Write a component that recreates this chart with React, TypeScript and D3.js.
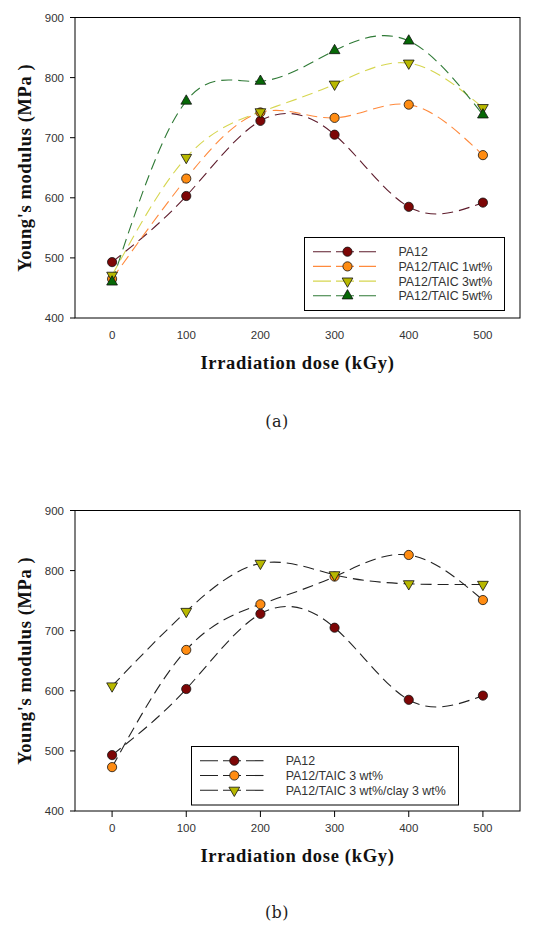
import React from "react";
import * as d3 from "d3";

// ---- data ----
const doses = [0, 100, 200, 300, 400, 500];
const xTicks = [0, 100, 200, 300, 400, 500];
const yTicks = [400, 500, 600, 700, 800, 900];

// panel (a)
const aPA12 = [493, 603, 728, 705, 585, 592];
const aTAIC1 = [465, 632, 742, 733, 755, 671];
const aTAIC3 = [471, 667, 743, 789, 824, 750];
const aTAIC5 = [460, 761, 794, 845, 861, 738];
const aLabels = ["PA12", "PA12/TAIC 1wt%", "PA12/TAIC 3wt%", "PA12/TAIC 5wt%"];

// panel (b)
const bPA12 = [493, 603, 728, 705, 585, 592];
const bTAIC3 = [473, 668, 744, 790, 826, 751];
const bClay = [608, 732, 812, 793, 778, 777];
const bLabels = ["PA12", "PA12/TAIC 3 wt%", "PA12/TAIC 3 wt%/clay 3 wt%"];

const xTitle = "Irradiation dose (kGy)";
const yTitle = "Young's modulus (MPa )";

type Series = { values: number[]; label: string; marker: string; fill: string; line: string };

const MAROON = "#7d0606";
const ORANGE = "#ff8c12";
const OLIVE = "#b8b800";
const GREEN = "#066806";

const seriesA: Series[] = [
  { values: aPA12, label: aLabels[0], marker: "circle", fill: MAROON, line: "#5e1c2c" },
  { values: aTAIC1, label: aLabels[1], marker: "circle", fill: ORANGE, line: "#ff8a3d" },
  { values: aTAIC3, label: aLabels[2], marker: "down", fill: OLIVE, line: "#d6d650" },
  { values: aTAIC5, label: aLabels[3], marker: "up", fill: GREEN, line: "#2f7a36" },
];
const seriesB: Series[] = [
  { values: bPA12, label: bLabels[0], marker: "circle", fill: MAROON, line: "#222" },
  { values: bTAIC3, label: bLabels[1], marker: "circle", fill: ORANGE, line: "#222" },
  { values: bClay, label: bLabels[2], marker: "down", fill: OLIVE, line: "#222" },
];

const SANS = "'Liberation Sans', Arial, sans-serif";
const SERIF = "'Liberation Serif', 'Times New Roman', serif";

function Marker({ kind, x, y, fill }: { kind: string; x: number; y: number; fill: string }) {
  if (kind === "circle") {
    return <circle cx={x} cy={y} r={4.6} fill={fill} stroke="#111" strokeWidth={0.8} />;
  }
  const path = d3.symbol().type(d3.symbolTriangle).size(50)() as string;
  const rot = kind === "down" ? 180 : 0;
  return (
    <path d={path} transform={`translate(${x},${y}) rotate(${rot})`} fill={fill} stroke="#111" strokeWidth={0.8} />
  );
}

type PanelProps = {
  top: number;
  bottom: number;
  series: Series[];
  xTickMarks: boolean;
  legend: { x0: number; x1: number; y0: number; y1: number; lineX0: number; lineX1: number; markerX: number; textX: number; rowY0: number; rowStep: number };
  caption: string;
  captionY: number;
};

function Panel({ top, bottom, series, xTickMarks, legend, caption, captionY }: PanelProps) {
  const left = 75;
  const right = 520;
  const x = d3.scaleLinear().domain([-50, 550]).range([left, right]);
  const y = d3.scaleLinear().domain([400, 900]).range([bottom, top]);
  const line = d3
    .line<number>()
    .x((_, i) => x(doses[i]))
    .y((d) => y(d))
    .curve(d3.curveNatural);

  return (
    <g>
      {/* curves */}
      {series.map((s, i) => (
        <path key={"l" + i} d={line(s.values) as string} fill="none" stroke={s.line} strokeWidth={1.1} strokeDasharray="11 6" />
      ))}
      {/* markers */}
      {series.map((s, i) => (
        <g key={"m" + i}>
          {s.values.map((v, j) => (
            <Marker key={j} kind={s.marker} x={x(doses[j])} y={y(v)} fill={s.fill} />
          ))}
        </g>
      ))}
      {/* frame */}
      <rect x={left} y={top} width={right - left} height={bottom - top} fill="none" stroke="#000" strokeWidth={1} />
      {/* y ticks */}
      {yTicks.map((t) => (
        <g key={"y" + t}>
          <line x1={left - 5} x2={left} y1={y(t)} y2={y(t)} stroke="#000" strokeWidth={1} />
          <text x={left - 11} y={y(t)} dy="0.35em" textAnchor="end" fontFamily={SANS} fontSize={11.5} fill="#333">
            {t}
          </text>
        </g>
      ))}
      {/* x ticks */}
      {xTicks.map((t) => (
        <g key={"x" + t}>
          {xTickMarks && <line x1={x(t)} x2={x(t)} y1={bottom} y2={bottom + 6} stroke="#000" strokeWidth={1} />}
          <text x={x(t)} y={bottom + 21} textAnchor="middle" fontFamily={SANS} fontSize={11.5} fill="#333">
            {t}
          </text>
        </g>
      ))}
      {/* axis titles */}
      <text x={(left + right) / 2} y={bottom + 51} textAnchor="middle" fontFamily={SERIF} fontWeight="bold" fontSize={18.5} letterSpacing={0.7} fill="#111">
        {xTitle}
      </text>
      <text
        transform={`translate(31,${(top + bottom) / 2}) rotate(-90)`}
        textAnchor="middle"
        fontFamily={SERIF}
        fontWeight="bold"
        fontSize={18.5}
        letterSpacing={0.6}
        fill="#111"
      >
        {yTitle}
      </text>
      {/* legend */}
      <rect x={legend.x0} y={legend.y0} width={legend.x1 - legend.x0} height={legend.y1 - legend.y0} fill="#fff" stroke="#000" strokeWidth={1} />
      {series.map((s, i) => {
        const ry = legend.rowY0 + i * legend.rowStep;
        return (
          <g key={"lg" + i}>
            <line x1={legend.lineX0} x2={legend.lineX1} y1={ry} y2={ry} stroke={s.line} strokeWidth={1.1} strokeDasharray="18 5" />
            <Marker kind={s.marker} x={legend.markerX} y={ry} fill={s.fill} />
            <text x={legend.textX} y={ry} dy="0.36em" fontFamily={SANS} fontSize={12.4} fill="#333">
              {s.label}
            </text>
          </g>
        );
      })}
      {/* caption */}
      <text x={277} y={captionY} dy="0.35em" textAnchor="middle" fontFamily="'DejaVu Serif', serif" fontSize={16} fill="#222" letterSpacing={0.5}>
        {caption}
      </text>
    </g>
  );
}

export default function App() {
  return (
    <svg width={548} height={940} style={{ position: "absolute", left: 0, top: 0, background: "#fff" }}>
      <rect x={0} y={0} width={548} height={940} fill="#fff" />
      <Panel
        top={17.5}
        bottom={318}
        series={seriesA}
        xTickMarks={false}
        legend={{ x0: 304.5, x1: 504.5, y0: 237.5, y1: 310.5, lineX0: 313, lineX1: 376, markerX: 347.5, textX: 398.5, rowY0: 251.7, rowStep: 14.7 }}
        caption="(a)"
        captionY={421.5}
      />
      <Panel
        top={510.5}
        bottom={811}
        series={seriesB}
        xTickMarks={true}
        legend={{ x0: 191.5, x1: 458.5, y0: 746.5, y1: 805, lineX0: 200, lineX1: 263.5, markerX: 234.3, textX: 285.7, rowY0: 760.7, rowStep: 14.8 }}
        caption="(b)"
        captionY={912}
      />
    </svg>
  );
}
